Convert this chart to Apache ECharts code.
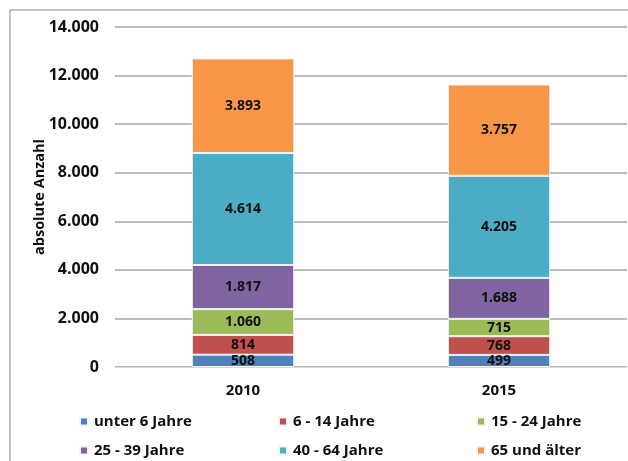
<!DOCTYPE html>
<html>
<head>
<meta charset="utf-8">
<script src="https://cdn.jsdelivr.net/npm/echarts@6/dist/echarts.min.js"></script>
<style>
  html, body { margin: 0; padding: 0; background: #fff; }
  #main { width: 628px; height: 461px; }
</style>
</head>
<body>
<div id="main"></div>
<script>
var years = ['2010', '2015'];
var seriesNames = ['unter 6 Jahre', '6 - 14 Jahre', '15 - 24 Jahre', '25 - 39 Jahre', '40 - 64 Jahre', '65 und älter'];
var under6 = [508, 499];
var age6to14 = [814, 768];
var age15to24 = [1060, 715];
var age25to39 = [1817, 1688];
var age40to64 = [4614, 4205];
var age65plus = [3893, 3757];
var seriesData = [under6, age6to14, age15to24, age25to39, age40to64, age65plus];

var colors = ['#4F81BD', '#C0504D', '#9BBB59', '#8064A2', '#4BACC6', '#F79646'];
var fontFam = '"Open Sans", "Liberation Sans", sans-serif';

function fmt(v) {
    return String(v).replace(/\B(?=(\d{3})+(?!\d))/g, '.');
}

var chart = echarts.init(document.getElementById('main'));

// legend positions: 3 columns, 2 rows
var legendPos = [[79, 419], [278, 419], [476, 419], [79, 448], [278, 448], [476, 448]];
var legends = seriesNames.map(function(name, i) {
    return {
        data: [name],
        left: legendPos[i][0],
        top: legendPos[i][1] - 5,
        padding: 0,
        itemWidth: 8,
        itemHeight: 8,
        itemGap: 6,
        icon: 'rect',
        textStyle: { fontFamily: fontFam, fontWeight: 'bold', fontSize: 15, color: '#111', padding: [0, 0, 0, 1] }
    };
});

var option = {
    animation: false,
    color: colors,
    graphic: [{
        type: 'rect',
        shape: { x: 10, y: 10, width: 640, height: 480 },
        style: { fill: 'none', stroke: '#888', lineWidth: 1 },
        silent: true
    }],
    legend: legends,
    grid: { left: 115, right: 1, top: 27, bottom: 94 },
    xAxis: {
        type: 'category',
        data: years,
        axisLine: { lineStyle: { color: '#d9d9d9' } },
        axisTick: { show: false },
        axisLabel: { fontFamily: fontFam, fontWeight: 'bold', fontSize: 15, color: '#111', margin: 16 }
    },
    yAxis: {
        type: 'value',
        min: 0,
        max: 14000,
        interval: 2000,
        name: 'absolute Anzahl',
        nameLocation: 'middle',
        nameGap: 68,
        nameMoveOverlap: false,
        nameTextStyle: { fontFamily: fontFam, fontWeight: 'bold', fontSize: 14.5, color: '#111' },
        axisLine: { show: false },
        axisTick: { show: false },
        splitLine: { lineStyle: { color: '#a6a6a6', width: 1.5 } },
        axisLabel: {
            fontFamily: fontFam, fontWeight: 'bold', fontSize: 16, color: '#111', margin: 16,
            formatter: function(v) { return fmt(v); }
        }
    },
    series: seriesNames.map(function(name, i) {
        return {
            name: name,
            type: 'bar',
            stack: 'total',
            barWidth: '40%',
            data: seriesData[i],
            itemStyle: { borderColor: '#f4f4f4', borderWidth: 1 },
            label: {
                show: true,
                position: 'inside',
                fontFamily: fontFam,
                fontWeight: 'bold',
                fontSize: 14,
                color: '#111',
                formatter: function(p) { return fmt(p.value); }
            }
        };
    })
};

chart.setOption(option);
</script>
</body>
</html>
